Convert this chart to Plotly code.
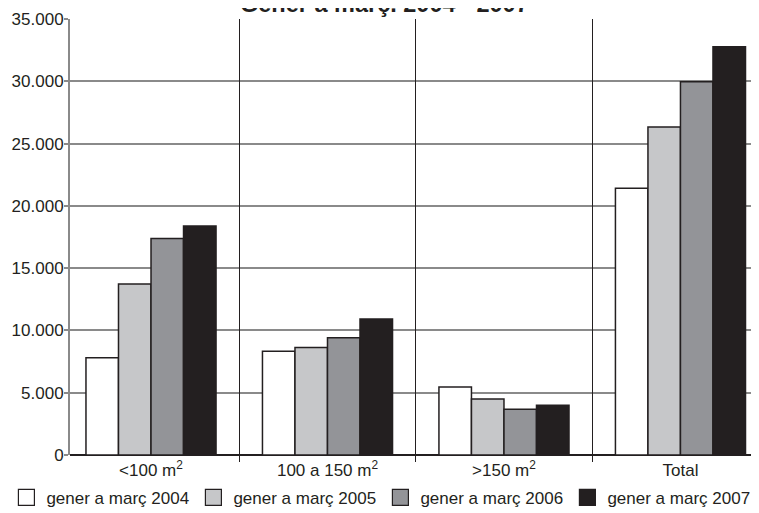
import plotly.graph_objects as go

categories = ["<100 m<sup>2</sup>", "100 a 150 m<sup>2</sup>", ">150 m<sup>2</sup>", "Total"]
series_names = ["gener a març 2004", "gener a març 2005", "gener a març 2006", "gener a març 2007"]
v2004 = [7810, 8320, 5450, 21420]
v2005 = [13730, 8620, 4490, 26330]
v2006 = [17380, 9420, 3680, 29970]
v2007 = [18390, 10920, 4000, 32780]
series_values = [v2004, v2005, v2006, v2007]
colors = ["#ffffff", "#c6c7c9", "#939498", "#231f20"]
title_text = "Gener a març. 2004 - 2007"

xpos = list(range(len(categories)))

fig = go.Figure()
for name, vals, col in zip(series_names, series_values, colors):
    fig.add_trace(go.Bar(
        x=xpos, y=vals, name=name, showlegend=False, legendgroup=name,
        marker=dict(color=col, line=dict(color="#231f20", width=1.5)),
    ))
    fig.add_trace(go.Scatter(
        x=[None], y=[None], mode="markers", name=name, legendgroup=name,
        marker=dict(symbol="square", size=16, color=col,
                    line=dict(color="#231f20", width=1.2)),
    ))

# invisible trace to activate the boundary axis
fig.add_trace(go.Scatter(x=[0.5, 1.5, 2.5], y=[None, None, None], xaxis="x2",
                         showlegend=False, hoverinfo="skip", mode="markers"))

# the page body adds an 8px margin, so the figure is 8px smaller and shifted
fig.update_layout(
    width=751, height=505,
    margin=dict(l=62, r=0, t=11, b=58, autoexpand=False),
    plot_bgcolor="white", paper_bgcolor="white",
    font=dict(family="Liberation Sans, Arial, sans-serif", size=17, color="#231f20"),
    separators=",.",
    barmode="group", bargap=0.263, bargroupgap=0,
    xaxis=dict(
        range=[-0.459, 3.445], tickvals=xpos, ticktext=categories,
        showgrid=False, zeroline=False, showline=False, ticks="",
        tickfont=dict(size=17), automargin=False, ticklabelstandoff=3,
    ),
    xaxis2=dict(
        overlaying="x", matches="x", range=[-0.459, 3.445],
        tickvals=[0.5, 1.5, 2.5], showticklabels=False,
        showgrid=True, gridcolor="#231f20", gridwidth=1,
        ticks="outside", ticklen=6, tickcolor="#231f20", tickwidth=1,
        zeroline=False, showline=False, side="bottom", automargin=False,
    ),
    yaxis=dict(
        range=[0, 35000], dtick=5000, tickformat=",d",
        showgrid=True, gridcolor="#8a8a8a", gridwidth=2,
        showline=True, linecolor="#8a8a8a", linewidth=2,
        ticks="outside", ticklen=4, tickcolor="#8a8a8a", tickwidth=1.5,
        zeroline=True, zerolinecolor="#231f20", zerolinewidth=1.5,
        tickfont=dict(size=17), automargin=False, ticklabelstandoff=-3,
    ),
    legend=dict(
        orientation="h", x=-0.0923, xanchor="left",
        y=-0.057, yanchor="top",
        font=dict(size=17), entrywidth=142, itemclick=False,
        tracegroupgap=0, bgcolor="rgba(0,0,0,0)",
    ),
    annotations=[dict(
        text="<b>" + title_text + "</b>", xref="paper", yref="paper",
        x=0.457, y=1.0, xanchor="center", yanchor="bottom", showarrow=False,
        font=dict(size=23.5, color="#231f20"),
    )],
)

fig.write_html("out.html")
